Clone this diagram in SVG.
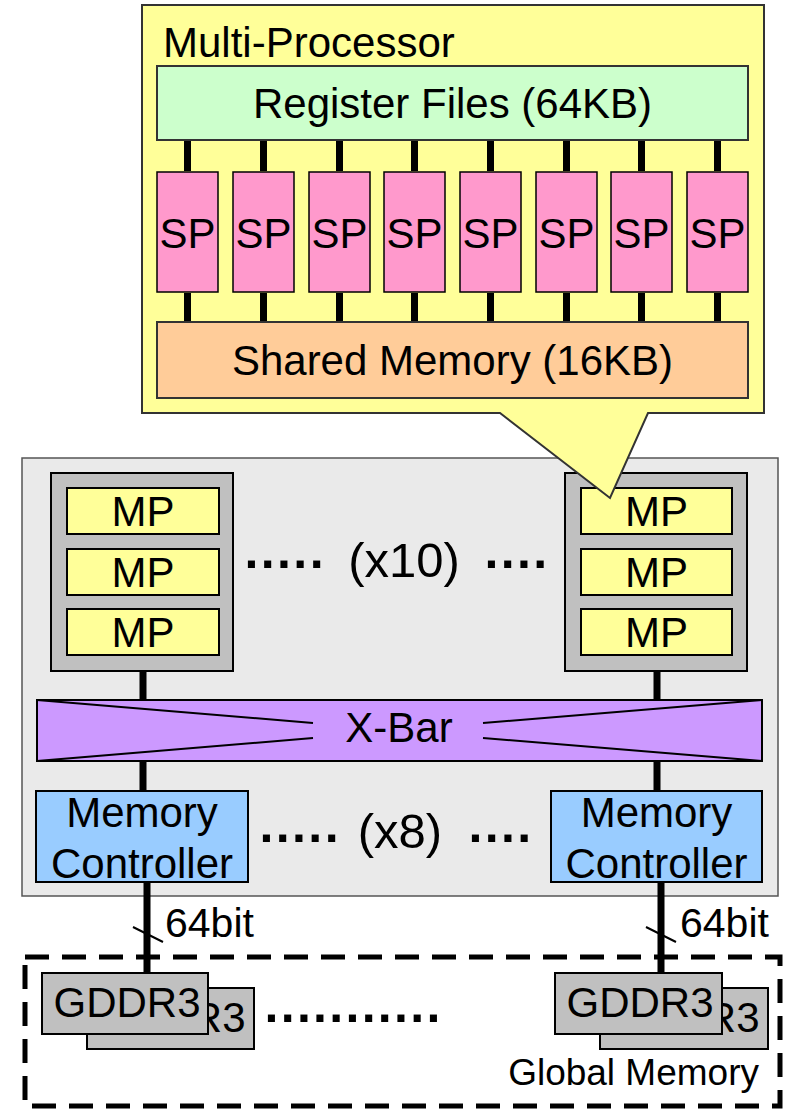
<svg xmlns="http://www.w3.org/2000/svg" width="786" height="1109" viewBox="0 0 786 1109">
  <defs>
    <style>
      text { font-family: "Liberation Sans", Arial, sans-serif; fill: #000; }
      .lbl { font-size: 42px; text-anchor: middle; }
      .dots { font-size: 50px; font-weight: bold; letter-spacing: 2.4px; }
      .mult { font-size: 49px; text-anchor: middle; }
      .bus { font-size: 41px; }
      .sp { fill: #FF99CC; stroke: #000; stroke-width: 1.5; }
      .mp { fill: #FFFF99; stroke: #000; stroke-width: 2; }
      .mpgroup { fill: #C0C0C0; stroke: #000; stroke-width: 2; }
      .mc { fill: #99CCFF; stroke: #000; stroke-width: 2; }
      .dram { fill: #C0C0C0; stroke: #000; stroke-width: 2; }
      .xline { stroke: #000; stroke-width: 2; fill: none; }
      .wire { stroke: #000; stroke-width: 7; fill: none; }
      .slash { stroke: #000; stroke-width: 2; fill: none; }
    </style>
  </defs>

  <!-- GPU chip outline -->
  <g id="gpu-chip">
    <rect x="22" y="458" width="756" height="438" fill="#EAEAEA" stroke="#555" stroke-width="1.5"/>
  </g>

  <!-- Left cluster of multiprocessors -->
  <g id="mp-cluster-left">
    <rect class="mpgroup" x="51" y="473" width="182" height="198"/>
    <rect class="mp" x="67" y="488" width="152" height="46"/>
    <text class="lbl" x="143" y="526">MP</text>
    <rect class="mp" x="67" y="549" width="152" height="46"/>
    <text class="lbl" x="143" y="587">MP</text>
    <rect class="mp" x="67" y="609" width="152" height="46"/>
    <text class="lbl" x="143" y="647">MP</text>
  </g>

  <!-- Right cluster of multiprocessors -->
  <g id="mp-cluster-right">
    <rect class="mpgroup" x="565" y="473" width="182" height="198"/>
    <rect class="mp" x="581" y="488" width="151" height="46"/>
    <text class="lbl" x="656.5" y="526">MP</text>
    <rect class="mp" x="581" y="549" width="151" height="46"/>
    <text class="lbl" x="656.5" y="587">MP</text>
    <rect class="mp" x="581" y="609" width="151" height="46"/>
    <text class="lbl" x="656.5" y="647">MP</text>
  </g>

  <g id="mp-count">
    <text class="dots" x="244.5" y="568">.....</text>
    <text class="mult" x="404" y="577">(x10)</text>
    <text class="dots" x="484.5" y="568">....</text>
  </g>

  <!-- Crossbar -->
  <g id="xbar">
    <rect x="37" y="700" width="725" height="61" fill="#CC99FF" stroke="#000" stroke-width="2"/>
    <polyline class="xline" points="37,700 313,723"/>
    <polyline class="xline" points="37,761 313,738"/>
    <polyline class="xline" points="762,700 483,723"/>
    <polyline class="xline" points="762,761 483,738"/>
    <text class="lbl" x="399" y="742">X-Bar</text>
  </g>

  <!-- Memory controllers -->
  <g id="mc-left">
    <rect class="mc" x="36" y="791" width="212" height="91"/>
    <text class="lbl" x="142" y="827">Memory</text>
    <text class="lbl" x="142" y="878">Controller</text>
  </g>
  <g id="mc-right">
    <rect class="mc" x="551" y="791" width="211" height="91"/>
    <text class="lbl" x="656.5" y="827">Memory</text>
    <text class="lbl" x="656.5" y="878">Controller</text>
  </g>
  <g id="mc-count">
    <text class="dots" x="259.5" y="842">.....</text>
    <text class="mult" x="400" y="848">(x8)</text>
    <text class="dots" x="468.5" y="842">....</text>
  </g>

  <!-- Global memory -->
  <g id="global-memory">
    <rect x="25" y="957" width="755" height="149" fill="none" stroke="#000" stroke-width="5" stroke-dasharray="24 13"/>
    <text x="759" y="1085" style="font-size:37px;text-anchor:end">Global Memory</text>
    <text class="dots" x="264.5" y="1022" style="letter-spacing:2.3px">...........</text>
  </g>

  <!-- Stacked DRAM chips: the rear chip is mostly hidden by the front one -->
  <g id="gddr3-left">
    <rect class="dram" x="87" y="988" width="167" height="61"/>
    <text class="lbl" x="172" y="1032">GDDR3</text>
    <rect class="dram" x="42" y="973" width="166" height="61"/>
    <text class="lbl" x="127" y="1017">GDDR3</text>
  </g>
  <g id="gddr3-right">
    <rect class="dram" x="600" y="988" width="168" height="61"/>
    <text class="lbl" x="686" y="1032">GDDR3</text>
    <rect class="dram" x="555" y="973" width="167" height="61"/>
    <text class="lbl" x="640" y="1017">GDDR3</text>
  </g>

  <!-- Enlarged view of one multiprocessor -->
  <g id="multiprocessor">
    <path d="M142,5 H764 V413 H648 L610,498 L500,413 H142 Z" fill="#FFFF99" stroke="#333" stroke-width="2"/>
    <text x="163" y="57" style="font-size:42px">Multi-Processor</text>
  </g>
  <g id="register-files">
    <rect x="157" y="66" width="591" height="74" fill="#CCFFCC" stroke="#333" stroke-width="2"/>
    <text class="lbl" x="452.5" y="118">Register Files (64KB)</text>
  </g>
  <g id="sp-array">
    <g id="sp1"><rect class="sp" x="157" y="172" width="61" height="120"/><text class="lbl" x="187.5" y="248">SP</text></g>
    <g id="sp2"><rect class="sp" x="233" y="172" width="61" height="120"/><text class="lbl" x="263.5" y="248">SP</text></g>
    <g id="sp3"><rect class="sp" x="309" y="172" width="61" height="120"/><text class="lbl" x="339.5" y="248">SP</text></g>
    <g id="sp4"><rect class="sp" x="384" y="172" width="61" height="120"/><text class="lbl" x="414.5" y="248">SP</text></g>
    <g id="sp5"><rect class="sp" x="460" y="172" width="61" height="120"/><text class="lbl" x="490.5" y="248">SP</text></g>
    <g id="sp6"><rect class="sp" x="536" y="172" width="61" height="120"/><text class="lbl" x="566.5" y="248">SP</text></g>
    <g id="sp7"><rect class="sp" x="611" y="172" width="61" height="120"/><text class="lbl" x="641.5" y="248">SP</text></g>
    <g id="sp8"><rect class="sp" x="687" y="172" width="61" height="120"/><text class="lbl" x="717.5" y="248">SP</text></g>
  </g>
  <g id="shared-memory">
    <rect x="157" y="322" width="591" height="76" fill="#FFCC99" stroke="#333" stroke-width="2"/>
    <text class="lbl" x="452.5" y="375">Shared Memory (16KB)</text>
  </g>

  <!-- Connectors -->
  <g id="connectors">
    <path class="wire" d="M187.5,141 V171 M263.5,141 V171 M339.5,141 V171 M414.5,141 V171 M490.5,141 V171 M566.5,141 V171 M641.5,141 V171 M717.5,141 V171"/>
    <path class="wire" d="M187.5,293 V321 M263.5,293 V321 M339.5,293 V321 M414.5,293 V321 M490.5,293 V321 M566.5,293 V321 M641.5,293 V321 M717.5,293 V321"/>
    <path class="wire" d="M143,672 V699 M143,762 V790 M147,883 V972"/>
    <path class="wire" d="M657,672 V699 M657,762 V790 M661,883 V972"/>
    <path class="slash" d="M133,927 L163,942 M646,927 L676,942"/>
    <text class="bus" x="165" y="937">64bit</text>
    <text class="bus" x="680" y="937">64bit</text>
  </g>
</svg>
